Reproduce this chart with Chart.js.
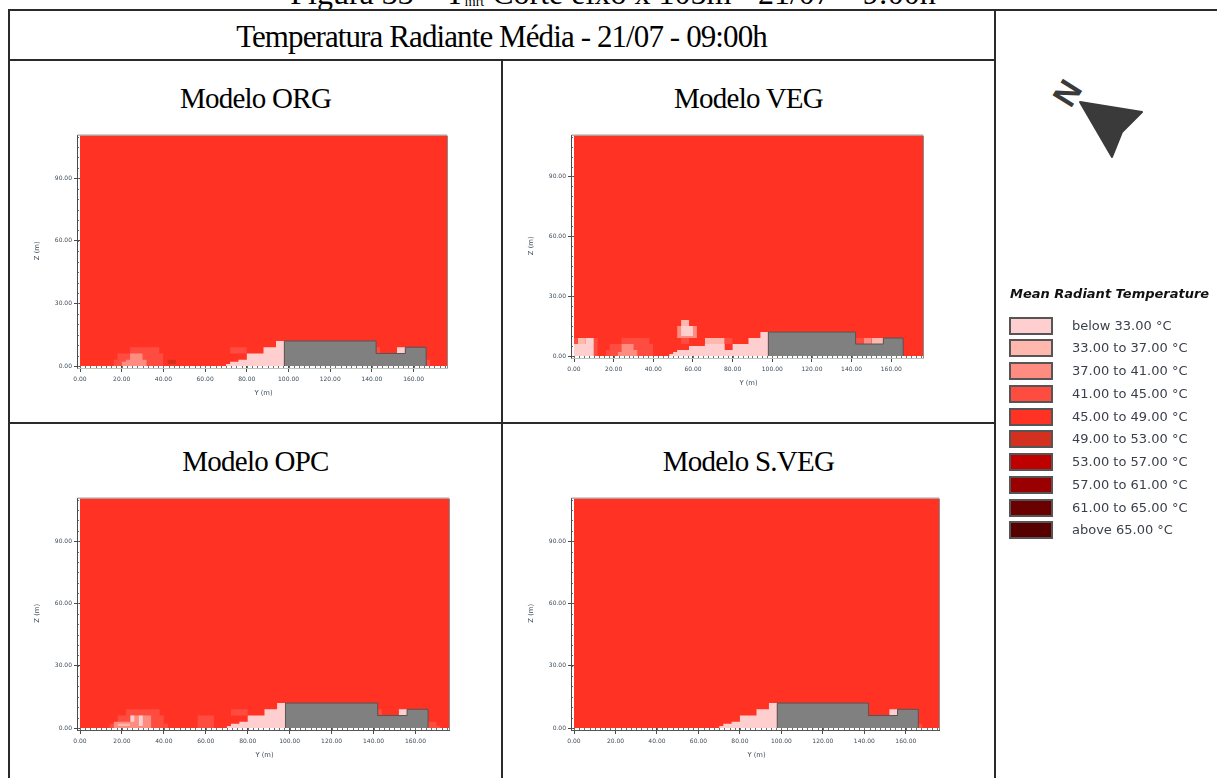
<!DOCTYPE html>
<html lang="pt">
<head>
<meta charset="utf-8">
<title>Temperatura Radiante Média - 21/07 - 09:00h</title>
<script src="https://cdn.jsdelivr.net/npm/chart.js@4"></script>
<style>
html, body { margin: 0; padding: 0; background: #fff; overflow: hidden; }
#page { position: relative; width: 1217px; height: 778px; overflow: hidden; font-family: "Liberation Serif", serif; color: #000; }
.rule { position: absolute; background: #2a2a2a; }
.head { position: absolute; text-align: center; white-space: nowrap; }
.model { font-size: 29px; line-height: 36px; letter-spacing: -0.75px; }
.plot { position: absolute; }
#legend { position: absolute; left: 0; top: 0; font-family: "DejaVu Sans", sans-serif; color: #3a3f4a; }
.swatch { position: absolute; left: 1009px; width: 40px; height: 14px; border: 2px solid #555; }
.label { position: absolute; left: 1072px; font-size: 13px; line-height: 16px; white-space: nowrap; }
#legendTitle { position: absolute; left: 1010px; top: 286px; font-family: "DejaVu Sans", sans-serif; font-size: 13px; font-weight: bold; font-style: italic; line-height: 16px; white-space: nowrap; color: #111; }
#north { position: absolute; left: 1047px; top: 75px; width: 40px; height: 36px; text-align: center; font: bold 33px/36px "Liberation Sans", sans-serif; color: #3a3a3a; transform: rotate(122deg); }
</style>
</head>
<body>
<div id="page">
  <div class="head" style="left:290px;top:-22px;width:646px;font-size:32px;line-height:30px;">Figura 33 – T<sub style="font-size:14px;line-height:0;vertical-align:-2px;">mrt</sub> Corte eixo x 105m - 21/07 – 9:00h</div>
  <div class="rule" style="left:8px;top:9px;width:1209px;height:2px;"></div>
  <div class="rule" style="left:8px;top:59px;width:988px;height:2px;"></div>
  <div class="rule" style="left:8px;top:422px;width:988px;height:2px;"></div>
  <div class="rule" style="left:8px;top:9px;width:2px;height:769px;"></div>
  <div class="rule" style="left:501px;top:60px;width:1.5px;height:718px;"></div>
  <div class="rule" style="left:994px;top:9px;width:2px;height:769px;"></div>
  <div class="head" style="left:10px;top:17px;width:983px;font-size:31px;line-height:40px;letter-spacing:-0.9px;">Temperatura Radiante Média - 21/07 - 09:00h</div>
  <div class="head model" style="left:10px;top:80px;width:491px;">Modelo ORG</div>
  <div class="head model" style="left:502px;top:80px;width:493px;">Modelo VEG</div>
  <div class="head model" style="left:10px;top:443px;width:491px;">Modelo OPC</div>
  <div class="head model" style="left:502px;top:443px;width:493px;">Modelo S.VEG</div>
  <canvas class="plot" id="chartOrg"></canvas>
  <canvas class="plot" id="chartVeg"></canvas>
  <canvas class="plot" id="chartOpc"></canvas>
  <canvas class="plot" id="chartSveg"></canvas>
  <div id="north">N</div>
  <svg style="position:absolute;left:0;top:0;" width="1217" height="778"><polygon points="1080,102 1142,112 1122,132 1112,157" fill="#3a3a3a" stroke="#3a3a3a" stroke-width="2" stroke-linejoin="round"/></svg>
  <div id="legend"></div>
  <div id="legendTitle">Mean Radiant Temperature</div>
</div>
<script>
// tick labels on the axes
const xTicks = [0, 20, 40, 60, 80, 100, 120, 140, 160];
const zTicks = [0, 30, 60, 90];
const xMax = 176;
const zMax = 110.5;

// legend
const bandLabels = ['below 33.00 °C', '33.00 to 37.00 °C', '37.00 to 41.00 °C', '41.00 to 45.00 °C', '45.00 to 49.00 °C',
    '49.00 to 53.00 °C', '53.00 to 57.00 °C', '57.00 to 61.00 °C', '61.00 to 65.00 °C', 'above 65.00 °C'];
const bandColors = ['#ffcfcf', '#ffb8ae', '#ff8c80', '#ff4c40', '#ff3224', '#d43020', '#be0000', '#9a0000', '#6a0000', '#560000'];
const BUILDING = 10;
const buildingColor = '#808080';

// patches of the section: [band, base z, y positions, top z held from each y]
const orgPatches = [
    [3, 0, [16, 18, 24, 38, 40], [3, 6, 9, 6, 6]],
    [3, 6, [72, 80], [9, 9]],
    [2, 0, [20, 22, 24, 30, 32], [2, 3, 6, 3, 3]],
    [5, 1, [42, 46], [3, 3]],
    [0, 0, [70, 72, 76, 80, 88, 94, 98], [1, 2, 3, 6, 9, 12, 12]],
    [0, 6, [152, 156], [9, 9]],
    [3, 0, [166, 168], [3, 3]],
    [3, 6, [142, 144], [9, 9]],
    [BUILDING, 0, [98, 98, 142, 156, 166, 166], [0, 12, 6, 9, 9, 0]]
];
const vegPatches = [
    [3, 0, [0, 12], [9, 9]],
    [0, 0, [0, 10], [6, 6]],
    [1, 6, [2, 6], [9, 9]],
    [0, 6, [6, 10], [9, 9]],
    [3, 0, [16, 18, 24, 38, 40], [3, 6, 9, 6, 6]],
    [2, 0, [22, 24, 30, 32], [2, 6, 3, 3]],
    [3, 6, [54, 58], [9, 9]],
    [2, 9, [52, 62], [15, 15]],
    [1, 15, [54, 58], [18, 18]],
    [0, 10, [54, 60], [15, 15]],
    [1, 6, [66, 76], [9, 9]],
    [3, 6, [76, 80], [9, 9]],
    [0, 0, [48, 50, 52, 58, 66, 76, 80, 88, 94, 98], [1, 2, 3, 5, 6, 3, 6, 9, 12, 12]],
    [3, 6, [142, 146], [9, 9]],
    [2, 6, [146, 150], [9, 9]],
    [1, 6, [150, 156], [9, 9]],
    [BUILDING, 0, [98, 98, 142, 156, 166, 166], [0, 12, 6, 9, 9, 0]]
];
const opcPatches = [
    [3, 0, [14, 18, 22, 38, 40], [2, 6, 9, 6, 6]],
    [3, 0, [40, 42], [2, 2]],
    [2, 0, [16, 24, 34], [3, 6, 6]],
    [0, 3, [24, 26], [6, 6]],
    [0, 1, [28, 30], [6, 6]],
    [1, 1, [18, 24], [2, 2]],
    [3, 0, [56, 64], [6, 6]],
    [3, 6, [72, 80], [9, 9]],
    [0, 0, [70, 72, 76, 80, 88, 94, 98], [1, 2, 3, 6, 9, 12, 12]],
    [0, 6, [152, 156], [9, 9]],
    [3, 6, [142, 144], [9, 9]],
    [3, 0, [166, 170, 172], [3, 1, 1]],
    [BUILDING, 0, [98, 98, 142, 156, 166, 166], [0, 12, 6, 9, 9, 0]]
];
const svegPatches = [
    [0, 0, [70, 72, 76, 80, 88, 94, 98], [1, 2, 3, 6, 9, 12, 12]],
    [0, 6, [152, 156], [9, 9]],
    [3, 0, [166, 168], [2, 2]],
    [BUILDING, 0, [98, 98, 142, 156, 166, 166], [0, 12, 6, 9, 9, 0]]
];

// Chart.js paints the first dataset on top, the patch lists read bottom layer first
function patchDatasets(patches) {
    return patches.map(p => {
        const color = p[0] === BUILDING ? buildingColor : bandColors[p[0]];
        return {
            data: p[2].map((x, i) => ({ x: x, y: p[3][i] })),
            backgroundColor: color,
            borderColor: p[0] === BUILDING ? '#555' : color,
            borderWidth: p[0] === BUILDING ? 1 : 0,
            fill: { target: { value: p[1] } },
            stepped: 'before',
            pointRadius: 0,
            tension: 0
        };
    }).reverse();
}

// red field behind the patches, axis lines and the small ticks of the section tool
const sectionPlugin = {
    id: 'section',
    beforeDatasetsDraw(chart) {
        const a = chart.chartArea, ctx = chart.ctx;
        ctx.fillStyle = bandColors[4];
        ctx.fillRect(a.left, a.top, a.right - a.left, a.bottom - a.top);
    },
    afterDraw(chart) {
        const a = chart.chartArea, ctx = chart.ctx;
        const sx = chart.scales.x, sz = chart.scales.y;
        const bottomLine = chart.options.plugins.section.bottomLine;
        ctx.save();
        ctx.lineWidth = 1;
        ctx.strokeStyle = '#8c8c8c';
        ctx.beginPath();
        ctx.moveTo(a.left - 2.5, a.top - 0.5);
        ctx.lineTo(a.right, a.top - 0.5);
        ctx.moveTo(a.right + 0.5, a.top);
        ctx.lineTo(a.right + 0.5, a.bottom + 2);
        ctx.stroke();
        ctx.strokeStyle = '#4a4a4a';
        ctx.beginPath();
        ctx.moveTo(a.left - 2.5, a.top - 0.5);
        ctx.lineTo(a.left - 2.5, a.bottom + 3);
        ctx.stroke();
        ctx.strokeStyle = bottomLine;
        ctx.beginPath();
        ctx.moveTo(a.left - 2.5, a.bottom + 2.5);
        ctx.lineTo(a.right + 1, a.bottom + 2.5);
        ctx.stroke();
        ctx.strokeStyle = '#6e6e6e';
        ctx.beginPath();
        for (let v = 0; v <= xMax; v += 2.5) {
            const px = Math.round(sx.getPixelForValue(v)) + 0.5;
            ctx.moveTo(px, a.bottom);
            ctx.lineTo(px, a.bottom + 2);
        }
        for (let v = 0; v <= zMax; v += 5) {
            const py = Math.round(sz.getPixelForValue(v)) + 0.5;
            ctx.moveTo(a.left - 2, py);
            ctx.lineTo(a.left - 1, py);
        }
        ctx.stroke();
        ctx.restore();
    }
};

// each panel is laid so that its plot area lands where the original one is
function drawPanel(id, patches, left, top, right, bottom, bottomLine) {
    const canvas = document.getElementById(id);
    const padLeft = 47, padBottom = 31;
    const axisFont = { family: 'DejaVu Sans', size: 6 };
    canvas.style.left = (left - padLeft) + 'px';
    canvas.style.top = (top - 4) + 'px';
    canvas.width = right - left + padLeft + 6;
    canvas.height = bottom - top + 4 + padBottom;
    new Chart(canvas.getContext('2d'), {
        type: 'line',
        data: { datasets: patchDatasets(patches) },
        plugins: [sectionPlugin],
        options: {
            responsive: false,
            animation: false,
            layout: { padding: { left: 0, top: 4, right: 6, bottom: 0 } },
            plugins: { legend: { display: false }, tooltip: { enabled: false }, section: { bottomLine: bottomLine } },
            scales: {
                x: {
                    type: 'linear',
                    min: 0,
                    max: xMax,
                    afterFit(scale) { scale.height = padBottom; },
                    afterBuildTicks(scale) { scale.ticks = xTicks.map(v => ({ value: v })); },
                    grid: { drawOnChartArea: false, tickLength: 6, tickColor: '#4a4a4a', offset: false },
                    border: { display: false },
                    ticks: {
                        maxRotation: 0,
                        autoSkip: false,
                        padding: 4,
                        color: '#3d4c5a',
                        font: axisFont,
                        callback: v => v.toFixed(2)
                    },
                    title: { display: true, text: 'Y (m)', color: '#3d4c5a', font: { family: 'DejaVu Sans', size: 6.8 }, padding: { top: 3, bottom: 0 } }
                },
                y: {
                    type: 'linear',
                    min: 0,
                    max: zMax,
                    afterFit(scale) { scale.width = padLeft; },
                    afterBuildTicks(scale) { scale.ticks = zTicks.map(v => ({ value: v })); },
                    grid: { drawOnChartArea: false, tickLength: 6, tickColor: '#4a4a4a' },
                    border: { display: false },
                    ticks: {
                        autoSkip: false,
                        padding: 2,
                        color: '#3d4c5a',
                        font: axisFont,
                        callback: v => v.toFixed(2)
                    },
                    title: { display: true, text: 'Z (m)', color: '#3d4c5a', font: { family: 'DejaVu Sans', size: 6.8 }, padding: 0 }
                }
            }
        }
    });
}

drawPanel('chartOrg', orgPatches, 80, 134, 447, 366, '#b9c4bc');
drawPanel('chartVeg', vegPatches, 574, 134, 923, 356, '#b9c4bc');
drawPanel('chartOpc', opcPatches, 80, 497, 449, 728, '#555555');
drawPanel('chartSveg', svegPatches, 574, 497, 939, 728, '#555555');

// legend rows
const legend = document.getElementById('legend');
bandLabels.forEach((text, i) => {
    const rowTop = 316.5 + i * 22.75;
    const swatch = document.createElement('div');
    swatch.className = 'swatch';
    swatch.style.top = Math.round(rowTop) + 'px';
    swatch.style.background = bandColors[i];
    legend.appendChild(swatch);
    const label = document.createElement('div');
    label.className = 'label';
    label.style.top = Math.round(rowTop + 1) + 'px';
    label.textContent = text;
    legend.appendChild(label);
});
</script>
</body>
</html>
